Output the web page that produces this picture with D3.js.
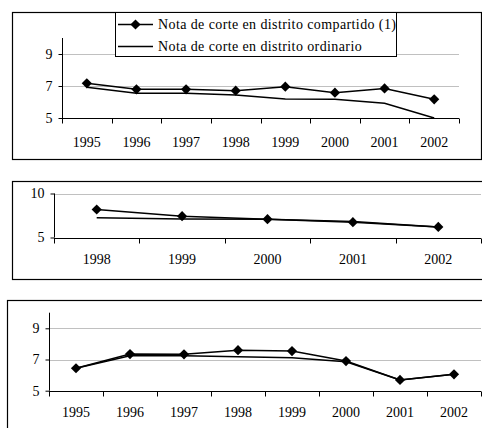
<!DOCTYPE html>
<html><head><meta charset="utf-8">
<script src="https://cdn.jsdelivr.net/npm/d3@7"></script>
<style>body{margin:0;background:#fff;} svg text{font-family:'Liberation Serif','DejaVu Serif',serif !important;}</style>
</head><body>
<svg id="c" width="482" height="428"></svg>
<script>
const years1 = ["1995","1996","1997","1998","1999","2000","2001","2002"];
const shared1 = [7.17,6.79,6.79,6.71,6.96,6.58,6.85,6.17];
const ordinary1 = [6.92,6.54,6.54,6.44,6.19,6.17,5.92,5.0];
const ticks1 = [5,7,9];

const years2 = ["1998","1999","2000","2001","2002"];
const shared2 = [8.18,7.42,7.08,6.74,6.2];
const ordinary2 = [7.24,7.11,7.08,6.82,6.2];
const ticks2 = [5,10];

const years3 = ["1995","1996","1997","1998","1999","2000","2001","2002"];
const shared3 = [6.44,7.35,7.33,7.6,7.54,6.9,5.69,6.05];
const ordinary3 = [6.44,7.24,7.24,7.18,7.12,6.86,5.69,6.05];
const ticks3 = [5,7,9];

const legendLabels = ["Nota de corte en distrito compartido (1)","Nota de corte en distrito ordinario"];

const FONT = "Liberation Serif";
const svg = d3.select("#c");
const diamond = d3.symbol().type(d3.symbolSquare).size(52);

function panel(cfg){
  const g = svg.append("g");
  g.append("rect").attr("x",cfg.box[0]+0.5).attr("y",cfg.box[1]+0.5)
    .attr("width",cfg.box[2]-cfg.box[0]).attr("height",cfg.box[3]-cfg.box[1])
    .attr("fill","none").attr("stroke","#000").attr("stroke-width",1.2);
  const x = d3.scaleBand().domain(cfg.cats).range([cfg.x0,cfg.x1]);
  const y = d3.scaleLinear().domain([5,10]).range([cfg.y0,cfg.yTop]);
  g.selectAll(".grid").data(cfg.grid).join("line")
    .attr("x1",cfg.x0).attr("x2",cfg.x1)
    .attr("y1",d=>Math.round(y(d))+0.5).attr("y2",d=>Math.round(y(d))+0.5)
    .attr("stroke","#c0c0c0").attr("stroke-width",1);
  const ya = g.append("g").attr("transform",`translate(${cfg.x0+0.5},0)`)
    .call(d3.axisLeft(y).tickValues(cfg.ticks).tickSize(4).tickPadding(6).tickFormat(d3.format("d")));
  ya.attr("font-family",FONT);
  ya.select(".domain").attr("d",`M0,${y(10)}V${y(5)}`).attr("stroke","#000");
  ya.selectAll(".tick line").attr("stroke","#000");
  ya.selectAll("text").attr("font-size",14).attr("fill","#000");
  const xa = g.append("g").attr("transform",`translate(0,${Math.round(cfg.y0)+0.5})`).attr("font-family",FONT);
  xa.append("line").attr("x1",cfg.x0).attr("x2",cfg.x1).attr("stroke","#000");
  const bounds = cfg.cats.map(c=>x(c)).concat([cfg.x1]);
  xa.selectAll(".bt").data(bounds).join("line")
    .attr("x1",d=>Math.round(d)+0.5).attr("x2",d=>Math.round(d)+0.5).attr("y1",0).attr("y2",5).attr("stroke","#000");
  xa.selectAll(".lab").data(cfg.cats).join("text")
    .attr("x",d=>x(d)+x.bandwidth()/2).attr("y",cfg.labDy)
    .attr("text-anchor","middle").attr("font-size",14).text(d=>d);
  const line = d3.line().x((d,i)=>x(cfg.cats[i])+x.bandwidth()/2).y(d=>y(d));
  g.append("path").attr("d",line(cfg.ordinary)).attr("fill","none").attr("stroke","#000").attr("stroke-width",1.5);
  g.append("path").attr("d",line(cfg.shared)).attr("fill","none").attr("stroke","#000").attr("stroke-width",1.5);
  g.selectAll(".m").data(cfg.shared).join("path")
    .attr("d",diamond)
    .attr("transform",(d,i)=>`translate(${x(cfg.cats[i])+x.bandwidth()/2},${y(d)}) rotate(45)`)
    .attr("fill","#000");
  return g;
}

panel({box:[12,12,481,159],cats:years1,shared:shared1,ordinary:ordinary1,ticks:ticks1,grid:[9,7],
  x0:62,x1:459,y0:118,yTop:38,labDy:28});
panel({box:[12,181,484,279],cats:years2,shared:shared2,ordinary:ordinary2,ticks:ticks2,grid:[10],
  x0:54,x1:481,y0:237.5,yTop:193.5,labDy:25});
panel({box:[7,300,484,440],cats:years3,shared:shared3,ordinary:ordinary3,ticks:ticks3,grid:[9,7],
  x0:49,x1:481,y0:390.7,yTop:312.7,labDy:25});

const lg = svg.append("g").attr("font-family",FONT);
lg.append("rect").attr("x",115.5).attr("y",12.5).attr("width",281).attr("height",44)
  .attr("fill","#fff").attr("stroke","#000").attr("stroke-width",1);
lg.selectAll(".ll").data(legendLabels).join("line")
  .attr("x1",118).attr("x2",153).attr("y1",(d,i)=>24.5+i*22).attr("y2",(d,i)=>24.5+i*22)
  .attr("stroke","#000").attr("stroke-width",1.5);
lg.append("path").attr("d",diamond).attr("transform","translate(135.5,24.5) rotate(45)").attr("fill","#000");
lg.selectAll(".lt").data(legendLabels).join("text")
  .attr("x",158).attr("y",(d,i)=>29+i*22).attr("font-size",14).attr("letter-spacing",0.4).text(d=>d);
</script>
</body></html>
